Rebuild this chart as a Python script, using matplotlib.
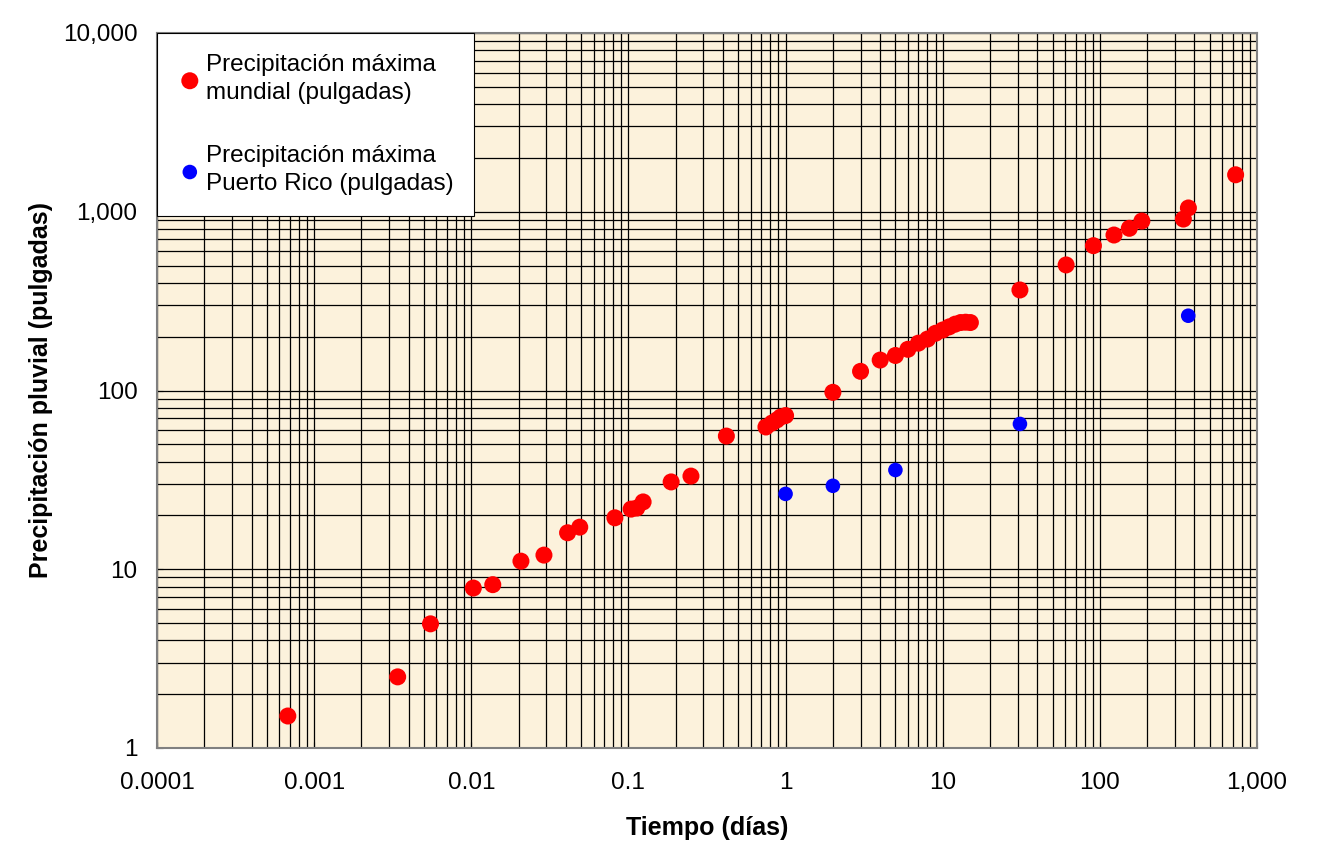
import matplotlib.pyplot as plt
import matplotlib.ticker as ticker
import numpy as np

plt.rcParams['font.family'] = ['Liberation Sans', 'DejaVu Sans']

# Precipitacion maxima mundial (tiempo en dias, pulgadas)
mundo_dias = [0.00068, 0.0034, 0.0055, 0.0103, 0.0137, 0.0207, 0.029, 0.041, 0.049,
              0.082, 0.104, 0.113, 0.124, 0.187, 0.25, 0.42, 0.75, 0.82, 0.88, 0.93,
              1.0, 2.0, 3.0, 4.0, 5.0, 6.0, 7.0, 8.0, 9.0, 10.0, 11.0, 12.0, 13.0, 14.0,
              15.0, 31, 61, 91, 123, 154, 185, 340, 366, 731]
mundo_pulg = [1.51, 2.5, 4.95, 7.85, 8.2, 11.1, 12.0, 16.0, 17.2,
              19.4, 21.7, 22.0, 23.8, 30.8, 33.2, 55.6, 62.5, 65.8, 68.4, 71.0,
              72.4, 97.7, 128, 148, 157, 170, 184, 194, 209, 218, 227, 235, 240, 241,
              240, 365, 504, 646, 741, 808, 887, 910, 1050, 1610]

# Precipitacion maxima Puerto Rico
pr_dias = [1.0, 2.0, 5.0, 31, 365]
pr_pulg = [26.4, 29.3, 35.9, 65, 262]

x_ticks = [0.0001, 0.001, 0.01, 0.1, 1, 10, 100, 1000]
x_labels = ['0.0001', '0.001', '0.01', '0.1', '1', '10', '100', '1,000']
y_ticks = [1, 10, 100, 1000, 10000]
y_labels = ['1', '10', '100', '1,000', '10,000']

fig = plt.figure(figsize=(13.17, 8.41), dpi=100)
ax = fig.add_axes([157 / 1317, 93 / 841, 1100 / 1317, 715 / 841])
ax.set_facecolor('#fcf2dc')

ax.scatter(mundo_dias, mundo_pulg, s=150, color='#ff0000', edgecolors='none', zorder=3,
           label='Precipitación máxima\nmundial (pulgadas)')
ax.scatter(pr_dias, pr_pulg, s=110, color='#0000ff', edgecolors='none', zorder=3,
           label='Precipitación máxima\nPuerto Rico (pulgadas)')

ax.set_xscale('log')
ax.set_yscale('log')
ax.set_xlim(0.0001, 1000)
ax.set_ylim(1, 10000)

ax.xaxis.set_major_locator(ticker.FixedLocator(x_ticks))
ax.xaxis.set_major_formatter(ticker.FixedFormatter(x_labels))
ax.yaxis.set_major_locator(ticker.FixedLocator(y_ticks))
ax.yaxis.set_major_formatter(ticker.FixedFormatter(y_labels))
ax.xaxis.set_minor_locator(ticker.LogLocator(base=10, subs=np.arange(2, 10), numticks=20))
ax.yaxis.set_minor_locator(ticker.LogLocator(base=10, subs=np.arange(2, 10), numticks=20))
ax.xaxis.set_minor_formatter(ticker.NullFormatter())
ax.yaxis.set_minor_formatter(ticker.NullFormatter())

ax.grid(True, which='both', color='black', linewidth=0.9, zorder=1)
ax.set_axisbelow(True)
ax.tick_params(which='both', direction='in', length=4, labelsize=17.5)
ax.tick_params(axis='x', pad=17)
ax.tick_params(axis='y', pad=14)
for sp in ax.spines.values():
    sp.set_color('#808080')
    sp.set_linewidth(1.5)

ax.set_xlabel('Tiempo (días)', fontsize=18, fontweight='bold', labelpad=16)
ax.set_ylabel('Precipitación pluvial (pulgadas)', fontsize=18, fontweight='bold', labelpad=7)

leg = ax.legend(loc='upper left', bbox_to_anchor=(0, 1), borderaxespad=0, fontsize=17.5,
                frameon=True, fancybox=False, framealpha=1, edgecolor='black',
                handletextpad=0.15, handlelength=1.0, labelspacing=1.7,
                borderpad=0.85, markerscale=1.0)
leg.get_frame().set_linewidth(0.8)
for t in leg.get_texts():
    t.set_linespacing(1.35)
leg.set_zorder(5)

fig.savefig('out.png', dpi=100)
